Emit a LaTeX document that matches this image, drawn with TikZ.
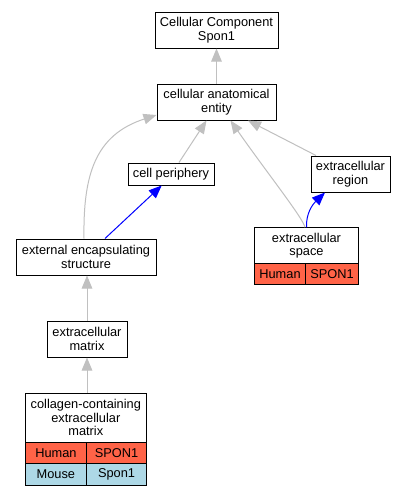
\documentclass[tikz,border=0pt]{standalone}
\usepackage{fontspec}
\setmainfont{Liberation Sans}
\usetikzlibrary{arrows.meta}
\definecolor{tomato}{HTML}{FF6347}
\definecolor{lightblue}{HTML}{ADD8E6}
\definecolor{silver}{HTML}{C0C0C0}

\begin{document}
\begin{tikzpicture}[x=1pt,y=-1pt,
  box/.style={draw,line width=1pt,fill=white,inner sep=0pt,align=center,
    font=\fontsize{12.8}{13.5}\selectfont},
  cell/.style={box,minimum height=21.5},
  isa/.style={draw=silver,line width=1pt,-{Triangle[length=13pt,width=10.5pt]}},
  partof/.style={draw=blue,line width=1pt,-{Triangle[length=13pt,width=10.5pt]}}]

\useasboundingbox[fill=white] (0,0) rectangle (407,496);

\node[box,minimum width=123,minimum height=36] (top) at (216.5,30) {Cellular Component\\Spon1};
\node[box,minimum width=119,minimum height=36] (cae) at (216.5,102) {cellular anatomical\\entity};
\node[box,minimum width=86,minimum height=22] (cp) at (171,174) {cell periphery};
\node[box,minimum width=79,minimum height=36] (er) at (350.5,174) {extracellular\\region};
\node[box,minimum width=140,minimum height=36] (ees) at (86,257) {external encapsulating\\structure};
\node[box,minimum width=80,minimum height=36] (em) at (87,339) {extracellular\\matrix};

% extracellular space with its table
\node[box,minimum width=104,minimum height=35.5] (es) at (306.5,245.5) {extracellular\\space};
\node[cell,fill=tomato,minimum width=51] (esh) at (280,274) {Human};
\node[cell,fill=tomato,minimum width=53] (esg) at (332,274) {SPON1};

% collagen-containing extracellular matrix with its table
\node[box,minimum width=121.5,minimum height=49] (ccem) at (85.8,417.7) {collagen-containing\\extracellular\\matrix};
\node[cell,fill=tomato,minimum width=61.7] (ccemh) at (55.9,453.1) {Human};
\node[cell,fill=tomato,minimum width=59.8] (ccemg) at (116.6,453.1) {SPON1};
\node[cell,fill=lightblue,minimum width=61.7] (ccemm) at (55.9,474.5) {Mouse};
\node[cell,fill=lightblue,minimum width=59.8] (ccemmg) at (116.6,474.5) {Spon1};

\draw[isa] (cae.north) -- (top.south);
\draw[isa] ([xshift=-2pt]ees.north) .. controls (83,175) and (95,135) .. ([yshift=-13pt]cae.west);
\draw[isa] ([xshift=8pt]cp.north) -- ([xshift=-10pt]cae.south);
\draw[isa] ([xshift=-1.5pt]es.north) .. controls (303,218) and (265,170) .. ([xshift=14pt]cae.south);
\draw[isa] ([xshift=-34.5pt]er.north) -- ([xshift=31.5pt]cae.south);
\draw[isa] (em.north) -- ([xshift=1pt]ees.south);
\draw[isa] ([xshift=1.2pt]ccem.north) -- (em.south);

\draw[partof] ([xshift=19pt]ees.north) -- ([xshift=-9.3pt]cp.south);
\draw[partof] (es.north) .. controls (306,214) and (312,205) .. ([xshift=-25.5pt]er.south);

\end{tikzpicture}
\end{document}
